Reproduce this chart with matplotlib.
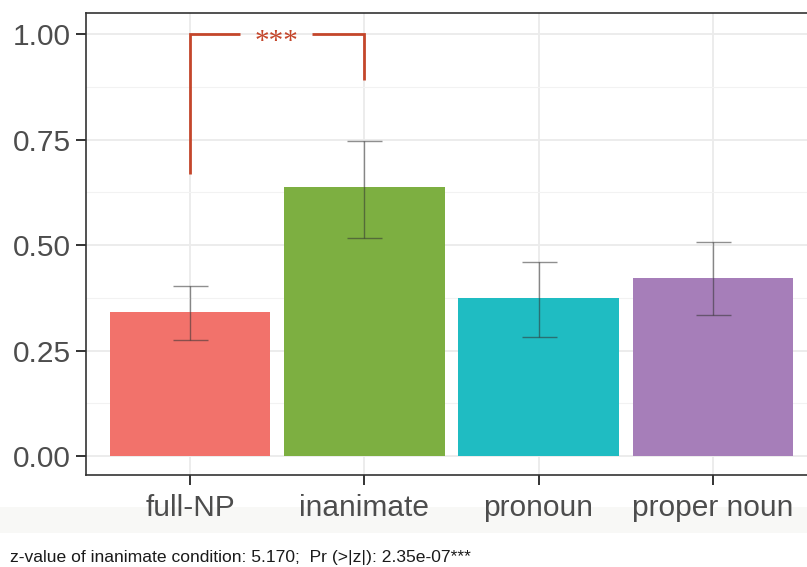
import matplotlib
matplotlib.use("Agg")
import matplotlib.pyplot as plt
from matplotlib.ticker import MultipleLocator
from matplotlib.patches import Rectangle
from matplotlib import font_manager

plt.rcParams['font.family'] = ['Liberation Sans', 'DejaVu Sans']

categories = ["full-NP", "inanimate", "pronoun", "proper noun"]
means = [0.341, 0.637, 0.374, 0.422]
ci_low = [0.275, 0.517, 0.282, 0.334]
ci_high = [0.402, 0.746, 0.460, 0.507]
colors = ["#F2726B", "#7DAF41", "#1FBCC2", "#A67EB9"]
yticks = [0.00, 0.25, 0.50, 0.75, 1.00]
ytick_labels = ["0.00", "0.25", "0.50", "0.75", "1.00"]

# significance bracket between full-NP and inanimate
bracket_y = 1.0
bracket_left_bottom = 0.668
bracket_right_bottom = 0.891
sig_label = "***"
caption = "z-value of inanimate condition: 5.170;  Pr (>|z|): 2.35e-07***"

names = {f.name for f in font_manager.fontManager.ttflist}
narrow = "Liberation Sans Narrow" if "Liberation Sans Narrow" in names else None

fig = plt.figure(figsize=(8.07, 5.67), dpi=100)
fig.patches.append(Rectangle((0, 34/567), 1, 26/567, transform=fig.transFigure,
                             facecolor="#F8F8F6", edgecolor="none", zorder=-5))

ax = fig.add_axes([86/807, 1 - 475/567, 731/807, 462/567])
x = list(range(len(categories)))
ax.bar(x, means, width=0.92, color=colors, zorder=2)
err_lo = [m - l for m, l in zip(means, ci_low)]
err_hi = [h - m for m, h in zip(means, ci_high)]
ax.errorbar(x, means, yerr=[err_lo, err_hi], fmt="none", ecolor="#333333",
            alpha=0.55, elinewidth=1.0, capsize=12.6, capthick=1.0, zorder=3)

ax.set_xlim(-0.6, 3.6)
ax.set_ylim(-0.045, 1.05)
ax.set_yticks(yticks)
ax.set_yticklabels(ytick_labels)
ax.yaxis.set_minor_locator(MultipleLocator(0.125))
ax.set_xticks(x)
ax.set_xticklabels(categories)
ax.grid(True, which="major", color="#EBEBEB", lw=1.3, zorder=0)
ax.grid(True, which="minor", axis="y", color="#F2F2F2", lw=0.8, zorder=0)
ax.set_axisbelow(True)
ax.tick_params(axis="both", which="major", length=7, width=1.4, color="#333333",
               labelcolor="#4D4D4D", labelsize=21.5)
ax.tick_params(axis="y", which="minor", length=0)
ax.tick_params(axis="x", pad=7)
ax.tick_params(axis="y", pad=4)
for s in ax.spines.values():
    s.set_color("#333333")
    s.set_linewidth(1.2)

bc = "#C4462B"
ax.plot([0, 0, 0.283], [bracket_left_bottom, bracket_y, bracket_y], color=bc, lw=2,
        solid_capstyle="butt", solid_joinstyle="miter", zorder=4)
ax.plot([0.70, 1, 1], [bracket_y, bracket_y, bracket_right_bottom], color=bc, lw=2,
        solid_capstyle="butt", solid_joinstyle="miter", zorder=4)
ax.text(0.497, bracket_y - 0.036, sig_label, color=bc, fontsize=21, ha="center",
        va="baseline", family="Liberation Serif", zorder=5)

if narrow:
    fig.text(10/807, 1 - 562/567, caption, fontsize=15.5, color="#1A1A1A",
             ha="left", va="baseline", family=[narrow, "Liberation Sans"])
else:
    fig.text(10/807, 1 - 562/567, caption, fontsize=12.6, color="#1A1A1A",
             ha="left", va="baseline")

fig.savefig("out.png", dpi=100)
